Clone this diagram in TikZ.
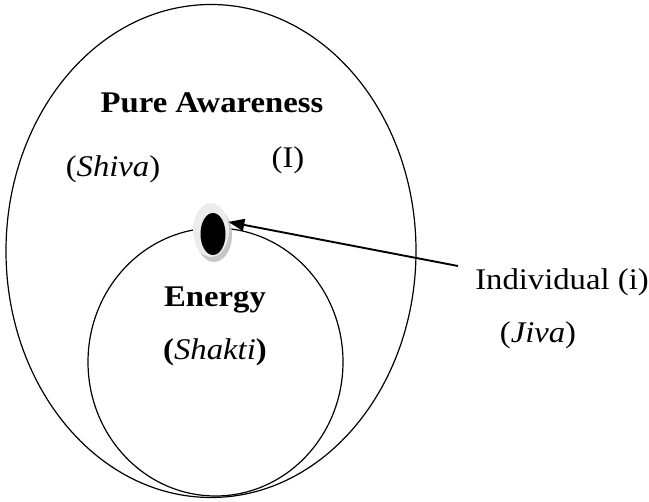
\documentclass[tikz,border=0pt]{standalone}
\usepackage{fontspec}
\setmainfont{Liberation Serif}[FakeStretch=1.09]
\usetikzlibrary{shapes.geometric,arrows.meta}

\begin{document}
\begin{tikzpicture}[x=1pt, y=-1pt,
    ring/.style={draw, ellipse, inner sep=0pt, line width=1.2pt},
    blob/.style={ellipse, inner sep=0pt},
    lbl/.style={font=\fontsize{30}{34}\selectfont, anchor=base},
    title/.style={lbl, font=\fontsize{30}{34}\selectfont\bfseries},
    arr/.style={-{Triangle[length=16pt,width=12pt]}, line width=1.9pt},
  ]
    \useasboundingbox (0,0) rectangle (649,502);

    % Circles
    \node[ring, minimum width=410pt, minimum height=493pt] (shiva)  at (211,251)   {};
    \node[ring, minimum width=255pt, minimum height=268pt] (shakti) at (215.5,362) {};

    % Jiva dot
    \node[blob, fill=gray!45, minimum width=36pt, minimum height=54pt] (shadow) at (214,235) {};
    \node[blob, fill=gray!15, minimum width=36pt, minimum height=54pt] (halo)   at (211,230) {};
    \node[blob, fill=black,   minimum width=25pt, minimum height=42pt] (dot)    at (213,234) {};

    % Labels
    \node[title] (aware)     at (212,113) {Pure Awareness};
    \node[lbl]   (shivalbl)  at (113,177) {(\textit{Shiva})};
    \node[lbl]   (self)      at (288,168) {(I)};
    \node[title] (energy)    at (215,307) {Energy};
    \node[lbl]   (shaktilbl) at (215,360) {\textbf{(}\textit{Shakti}\textbf{)}};
    \node[lbl]   (indiv)     at (562,290) {Individual (i)};
    \node[lbl]   (jivalbl)   at (538,343) {(\textit{Jiva})};

    % Arrow
    \coordinate (tail) at (458,266);
    \draw[arr] (tail) -- (halo.25);
\end{tikzpicture}
\end{document}
